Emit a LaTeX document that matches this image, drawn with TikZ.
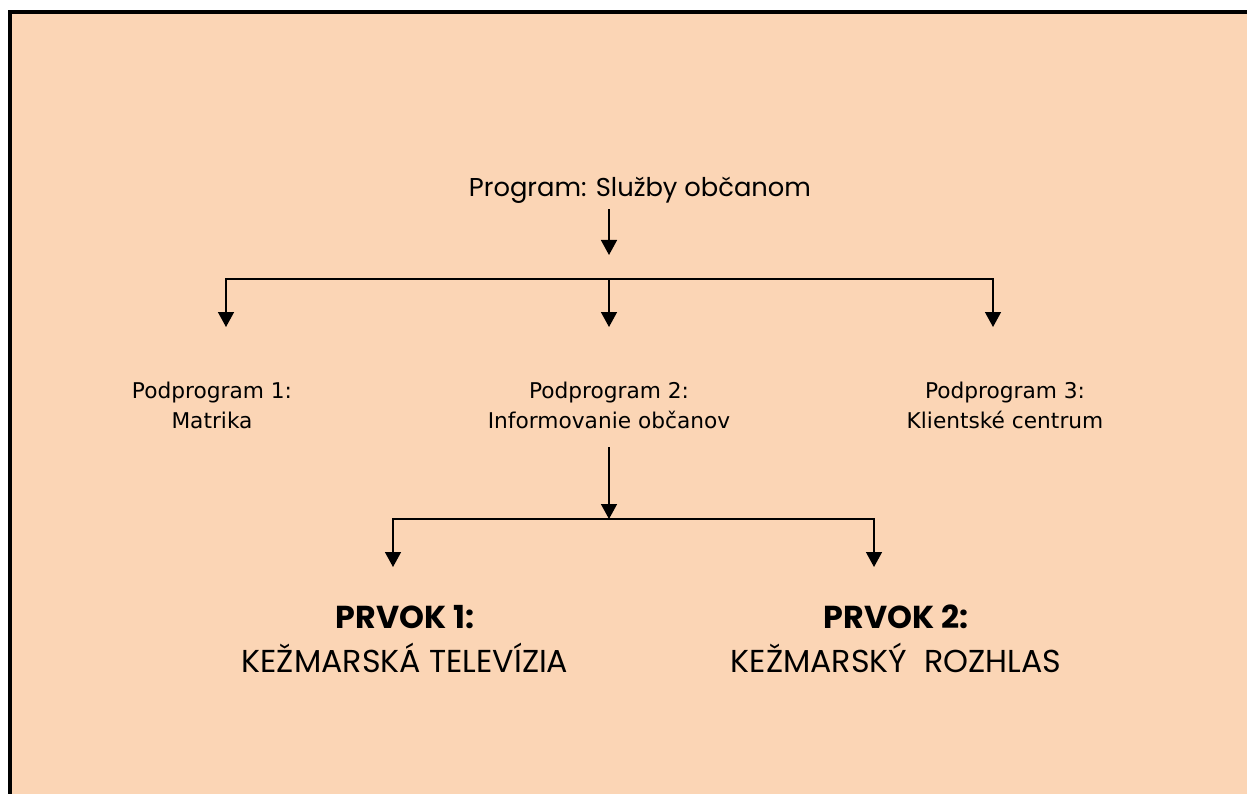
\documentclass[tikz,border=0pt]{standalone}
\usepackage{fontspec}
\setmainfont{Poppins}
\newfontfamily\podfont{DejaVu Sans}
\usetikzlibrary{arrows.meta}
\definecolor{peach}{RGB}{251,213,181}
\tikzset{
	podprog/.style={font=\podfont\fontsize{21.7}{30}\selectfont,align=center,inner sep=0pt,anchor=north},
	prvok/.style={font=\fontsize{31.7}{44}\selectfont,align=center,inner sep=0pt,anchor=north},
	spoj/.style={line width=1.5pt}
}
\begin{document}
\begin{tikzpicture}[x=1pt,y=-1pt,>={Triangle[width=16pt,length=15pt]}]
	\useasboundingbox (0,0) rectangle (1247,794);
	% pozadie a okraj
	\fill[peach] (8,10) rectangle (1247,794);
	\draw[line width=4pt] (10,794)--(10,12)--(1247,12);
	% program
	\node[font=\fontsize{25.8}{30}\selectfont,inner sep=0pt,anchor=base] (prog) at (640,197) {Program: Služby občanom};
	\coordinate (h1) at (609,279);
	\coordinate (t1) at (609,255);
	\coordinate (a1) at (226,327);
	\coordinate (a2) at (609,327);
	\coordinate (a3) at (993,327);
	\draw[spoj,->] (prog.south-|t1)++(0,5)--(t1);
	\draw[spoj,->] (h1)-|(a1);
	\draw[spoj,->] (h1)--(a2);
	\draw[spoj,->] (h1)-|(a3);
	% podprogramy
	\node[podprog] (pp1) at (212,382) {Podprogram 1:\\Matrika};
	\node[podprog] (pp2) at (609,382) {Podprogram 2:\\Informovanie občanov};
	\node[podprog] (pp3) at (1005,382) {Podprogram 3:\\Klientské centrum};
	\coordinate (h2) at (609,519);
	\coordinate (b1) at (393,567);
	\coordinate (b2) at (874,567);
	\draw[spoj,->] ([yshift=-18pt]pp2.south)--(h2);
	\draw[spoj,->] (h2)-|(b1);
	\draw[spoj,->] (h2)-|(b2);
	% prvky
	\node[prvok] (pr1) at (405,605) {{\bfseries PRVOK 1:}\\KEŽMARSKÁ TELEVÍZIA};
	\node[prvok] (pr2) at (896,605) {{\bfseries PRVOK 2:}\\KEŽMARSKÝ\ \ ROZHLAS};
\end{tikzpicture}
\end{document}
